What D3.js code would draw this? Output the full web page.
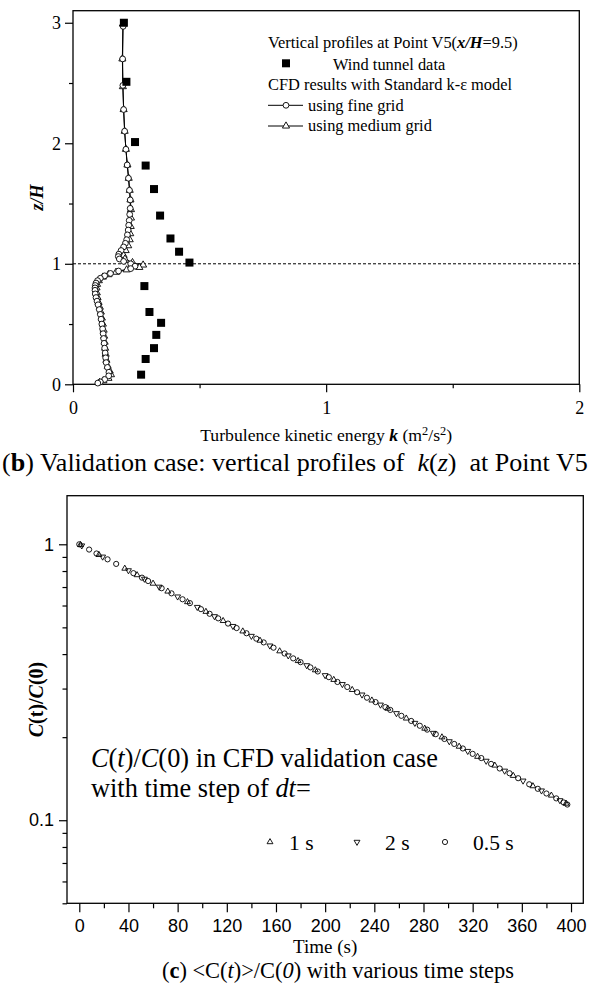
<!DOCTYPE html>
<html>
<head>
<meta charset="utf-8">
<script src="https://cdn.jsdelivr.net/npm/d3@7"></script>
<style>
  body { margin: 0; background: #fff; }
  svg { display: block; }
  text { white-space: pre; }
</style>
</head>
<body>
<svg id="fig" width="600" height="995"></svg>
<script>
// ---------- Panel (b): vertical profiles of k at Point V5 ----------
// wind tunnel measurements
const windK = [0.201, 0.211, 0.245, 0.287, 0.320, 0.344, 0.385, 0.419, 0.460, 0.282, 0.302, 0.348, 0.329, 0.320, 0.287, 0.269];
const windZ = [3.00, 2.51, 2.01, 1.815, 1.62, 1.40, 1.21, 1.10, 1.01, 0.815, 0.60, 0.51, 0.41, 0.30, 0.21, 0.08];

// CFD, standard k-epsilon, fine grid
const fineZ = [2.97, 2.70, 2.48, 2.28, 2.10, 1.95, 1.82, 1.71, 1.61, 1.53, 1.46, 1.41, 1.36, 1.32, 1.28, 1.24, 1.20, 1.17, 1.14, 1.11, 1.08, 1.06, 1.04, 1.02, 1.00, 0.98, 0.96, 0.94, 0.92, 0.90, 0.88, 0.86, 0.84, 0.82, 0.80, 0.78, 0.75, 0.72, 0.69, 0.66, 0.62, 0.58, 0.54, 0.50, 0.46, 0.42, 0.38, 0.34, 0.30, 0.26, 0.22, 0.18, 0.14, 0.10, 0.07, 0.04, 0.02, 0.01];
const fineK = [0.198, 0.196, 0.197, 0.200, 0.204, 0.209, 0.214, 0.219, 0.223, 0.226, 0.226, 0.224, 0.222, 0.220, 0.218, 0.215, 0.212, 0.207, 0.200, 0.190, 0.181, 0.179, 0.183, 0.200, 0.228, 0.245, 0.228, 0.180, 0.148, 0.125, 0.108, 0.097, 0.091, 0.088, 0.087, 0.087, 0.088, 0.091, 0.095, 0.099, 0.104, 0.108, 0.111, 0.114, 0.117, 0.119, 0.121, 0.123, 0.125, 0.127, 0.129, 0.131, 0.136, 0.142, 0.141, 0.125, 0.108, 0.098];

// CFD, standard k-epsilon, medium grid
const medZ = [2.99, 2.70, 2.47, 2.28, 2.10, 1.95, 1.82, 1.71, 1.61, 1.53, 1.45, 1.38, 1.31, 1.25, 1.20, 1.15, 1.11, 1.07, 1.04, 1.01, 0.99, 0.97, 0.95, 0.93, 0.91, 0.89, 0.86, 0.83, 0.80, 0.76, 0.72, 0.68, 0.64, 0.60, 0.55, 0.50, 0.45, 0.40, 0.35, 0.30, 0.25, 0.20, 0.15, 0.11, 0.08, 0.05, 0.03, 0.015];
const medK = [0.197, 0.195, 0.197, 0.200, 0.204, 0.209, 0.215, 0.220, 0.224, 0.227, 0.229, 0.229, 0.228, 0.226, 0.224, 0.218, 0.208, 0.200, 0.205, 0.235, 0.277, 0.262, 0.212, 0.170, 0.140, 0.118, 0.102, 0.095, 0.093, 0.094, 0.097, 0.101, 0.106, 0.110, 0.114, 0.118, 0.121, 0.123, 0.125, 0.127, 0.129, 0.132, 0.137, 0.145, 0.150, 0.140, 0.120, 0.105];

const kTicks = [0, 1, 2];
const kMinor = [0.5, 1.5];
const zTicks = [0, 1, 2, 3];
const zMinor = [0.5, 1.5, 2.5];
const roofZ = 1;

// ---------- Panel (c): C(t)/C(0) for three time steps ----------
const tHalf = [0, 8, 14, 23, 30, 44, 51, 56, 67, 75, 84, 90, 99, 106, 113, 121, 128, 136, 144, 150, 158, 167, 174, 180, 188, 194, 203, 210, 218, 226, 234, 241, 249, 253, 262, 270, 277, 283, 290, 297, 305, 312, 320, 327, 335, 342, 350, 357, 366, 373, 380, 388, 394, 397];
const cHalf = [1.000, 0.957, 0.926, 0.882, 0.849, 0.786, 0.757, 0.736, 0.693, 0.664, 0.632, 0.612, 0.582, 0.560, 0.539, 0.516, 0.497, 0.476, 0.455, 0.441, 0.422, 0.402, 0.386, 0.374, 0.358, 0.346, 0.330, 0.317, 0.304, 0.291, 0.278, 0.268, 0.257, 0.251, 0.239, 0.229, 0.220, 0.213, 0.205, 0.197, 0.189, 0.182, 0.174, 0.168, 0.160, 0.154, 0.148, 0.142, 0.135, 0.130, 0.125, 0.120, 0.116, 0.114];

const tOne = [1, 16, 37, 47, 60, 72, 88, 103, 117, 133, 147, 163, 178, 192, 207, 222, 238, 251, 266, 281, 295, 309, 324, 338, 353, 369, 384, 396];
const cOne = [0.995, 0.916, 0.817, 0.774, 0.721, 0.675, 0.618, 0.570, 0.528, 0.484, 0.448, 0.410, 0.378, 0.350, 0.323, 0.297, 0.272, 0.254, 0.234, 0.215, 0.200, 0.185, 0.170, 0.158, 0.145, 0.133, 0.123, 0.115];

const tTwo = [2, 19, 40, 53, 65, 80, 96, 110, 125, 140, 155, 170, 185, 200, 214, 230, 245, 258, 273, 288, 301, 316, 331, 346, 361, 376, 391];
const cTwo = [0.989, 0.901, 0.804, 0.749, 0.701, 0.646, 0.592, 0.548, 0.505, 0.465, 0.429, 0.395, 0.364, 0.335, 0.311, 0.285, 0.262, 0.244, 0.225, 0.207, 0.193, 0.178, 0.164, 0.151, 0.139, 0.128, 0.118];

const timeTicks = [0, 40, 80, 120, 160, 200, 240, 280, 320, 360, 400];
const timeMinor = [20, 60, 100, 140, 180, 220, 260, 300, 340, 380];
const ratioTicks = [0.1, 1];
const ratioMinor = [0.05, 0.06, 0.07, 0.08, 0.09, 0.2, 0.3, 0.4, 0.5, 0.6, 0.7, 0.8, 0.9];

const stepLabels = ["1 s", "2 s", "0.5 s"];

// ---------- drawing ----------
const SERIF = "'Liberation Serif','Times New Roman',serif";
const SANS = "'Liberation Sans',Arial,sans-serif";
const svg = d3.select("#fig");
svg.append("rect").attr("width", 600).attr("height", 995).attr("fill", "#fff");

const zip = (a, b, ka, kb) => a.map((v, i) => ({ [ka]: v, [kb]: b[i] }));

function styleAxis(g, font, size) {
  g.attr("font-family", font).attr("font-size", size);
  g.select(".domain").remove();
  g.selectAll(".tick line").attr("stroke", "#000").attr("stroke-width", 1.2);
  g.selectAll(".tick text").attr("font-family", font).attr("font-size", size).attr("fill", "#000");
}

function fitWidth(sel, target) {
  const fs = parseFloat(sel.attr("font-size"));
  const len = sel.node().getComputedTextLength();
  const size = fs * target / len;
  sel.attr("font-size", size.toFixed(2));
  return size;
}

// ===== panel (b) =====
const xK = d3.scaleLinear().domain([0, 2]).range([73, 579.3]);
const yZ = d3.scaleLinear().domain([0, 3.1]).range([384.3, 10.7]);
const gb = svg.append("g");

gb.append("g").attr("transform", `translate(0,${yZ(0)})`)
  .call(d3.axisBottom(xK).tickValues(kTicks).tickSize(8).tickPadding(9).tickFormat(d3.format("d")))
  .call(styleAxis, SERIF, 18);
gb.append("g").attr("transform", `translate(0,${yZ(0)})`)
  .call(d3.axisBottom(xK).tickValues(kMinor).tickSize(4).tickFormat(""))
  .call(styleAxis, SERIF, 18);
gb.append("g").attr("transform", `translate(${xK(0)},0)`)
  .call(d3.axisLeft(yZ).tickValues(zTicks).tickSize(8).tickPadding(4).tickFormat(d3.format("d")))
  .call(styleAxis, SERIF, 18);
gb.append("g").attr("transform", `translate(${xK(0)},0)`)
  .call(d3.axisLeft(yZ).tickValues(zMinor).tickSize(4).tickFormat(""))
  .call(styleAxis, SERIF, 18);

gb.append("rect")
  .attr("x", xK(0)).attr("y", yZ(3.1))
  .attr("width", xK(2) - xK(0)).attr("height", yZ(0) - yZ(3.1))
  .attr("fill", "none").attr("stroke", "#000").attr("stroke-width", 1.3);

// roof-height reference line
gb.append("line")
  .attr("x1", xK(0)).attr("x2", xK(2))
  .attr("y1", yZ(roofZ)).attr("y2", yZ(roofZ))
  .attr("stroke", "#000").attr("stroke-width", 1).attr("stroke-dasharray", "3,2");

const fine = zip(fineK, fineZ, "k", "z");
const med = zip(medK, medZ, "k", "z");
const wind = zip(windK, windZ, "k", "z");
const profLine = d3.line().x(d => xK(d.k)).y(d => yZ(d.z));

gb.append("path").attr("d", profLine(med)).attr("fill", "none").attr("stroke", "#000").attr("stroke-width", 1);
gb.append("path").attr("d", profLine(fine)).attr("fill", "none").attr("stroke", "#000").attr("stroke-width", 1);

const triUpTop = d3.symbol(d3.symbolTriangle, 22);
gb.selectAll(".med").data(med).join("path")
  .attr("transform", d => `translate(${xK(d.k)},${yZ(d.z)})`)
  .attr("d", triUpTop()).attr("fill", "#fff").attr("stroke", "#000").attr("stroke-width", 0.9);
gb.selectAll(".fine").data(fine).join("circle")
  .attr("cx", d => xK(d.k)).attr("cy", d => yZ(d.z)).attr("r", 2.9)
  .attr("fill", "#fff").attr("stroke", "#000").attr("stroke-width", 0.9);
gb.selectAll(".wind").data(wind).join("rect")
  .attr("x", d => xK(d.k) - 4).attr("y", d => yZ(d.z) - 4)
  .attr("width", 8).attr("height", 8).attr("fill", "#000");

// legend
const lg = gb.append("g").attr("font-family", SERIF).attr("font-size", 15).attr("fill", "#000");
const l1 = lg.append("text").attr("x", 268).attr("y", 47.5).attr("font-size", 15);
l1.append("tspan").text("Vertical profiles at Point V5(");
l1.append("tspan").attr("font-weight", "bold").attr("font-style", "italic").text("x/H");
l1.append("tspan").text("=9.5)");
const legSize = fitWidth(l1, 250);
lg.attr("font-size", legSize.toFixed(2));
lg.append("rect").attr("x", 282).attr("y", 59.3).attr("width", 8).attr("height", 8).attr("fill", "#000");
lg.append("text").attr("x", 333).attr("y", 69.5).text("Wind tunnel data");
lg.append("text").attr("x", 268).attr("y", 90).text("CFD results with Standard k-\u03B5 model");
lg.append("line").attr("x1", 268).attr("x2", 303).attr("y1", 105.3).attr("y2", 105.3).attr("stroke", "#000").attr("stroke-width", 1);
lg.append("circle").attr("cx", 286).attr("cy", 105.3).attr("r", 2.9).attr("fill", "#fff").attr("stroke", "#000").attr("stroke-width", 0.9);
lg.append("text").attr("x", 308).attr("y", 110.5).text("using fine grid");
lg.append("line").attr("x1", 268).attr("x2", 303).attr("y1", 126).attr("y2", 126).attr("stroke", "#000").attr("stroke-width", 1);
lg.append("path").attr("transform", "translate(286,126)").attr("d", triUpTop()).attr("fill", "#fff").attr("stroke", "#000").attr("stroke-width", 0.9);
lg.append("text").attr("x", 308).attr("y", 131).text("using medium grid");

// axis titles
const xt = gb.append("text").attr("x", xK(1)).attr("y", 441).attr("text-anchor", "middle")
  .attr("font-family", SERIF).attr("font-size", 15).attr("fill", "#000");
xt.append("tspan").text("Turbulence kinetic energy ");
xt.append("tspan").attr("font-weight", "bold").attr("font-style", "italic").text("k");
xt.append("tspan").text(" (m");
xt.append("tspan").attr("font-size", "0.7em").attr("dy", "-0.45em").text("2");
xt.append("tspan").attr("dy", "0.315em").text("/s");
xt.append("tspan").attr("font-size", "0.7em").attr("dy", "-0.45em").text("2");
xt.append("tspan").attr("dy", "0.315em").text(")");
fitWidth(xt, 252);

gb.append("text")
  .attr("transform", `translate(37,${(yZ(0) + yZ(3.1)) / 2}) rotate(-90)`)
  .attr("text-anchor", "middle").attr("dominant-baseline", "central")
  .attr("font-family", SERIF).attr("font-size", 18).attr("font-weight", "bold").attr("font-style", "italic")
  .text("z/H");

// caption (b)
const capB = svg.append("text").attr("x", 2).attr("y", 471)
  .attr("font-family", SERIF).attr("font-size", 21).attr("fill", "#000");
capB.append("tspan").text("(");
capB.append("tspan").attr("font-weight", "bold").text("b");
capB.append("tspan").text(") Validation case: vertical profiles of  ");
capB.append("tspan").attr("font-style", "italic").text("k");
capB.append("tspan").text("(");
capB.append("tspan").attr("font-style", "italic").text("z");
capB.append("tspan").text(")  at Point V5");
fitWidth(capB, 586);

// ===== panel (c) =====
const xT = d3.scaleLinear().domain([-10, 410]).range([67, 583.3]);
const yC = d3.scaleLog().domain([0.05, 1.5]).range([903.3, 495.7]);
const gc = svg.append("g");

gc.append("g").attr("transform", `translate(0,${yC(0.05)})`)
  .call(d3.axisBottom(xT).tickValues(timeTicks).tickSize(9).tickPadding(7).tickFormat(d3.format("d")))
  .call(styleAxis, SANS, 18);
gc.append("g").attr("transform", `translate(0,${yC(0.05)})`)
  .call(d3.axisBottom(xT).tickValues(timeMinor).tickSize(5).tickFormat(""))
  .call(styleAxis, SANS, 18);
gc.append("g").attr("transform", `translate(${xT(-10)},0)`)
  .call(d3.axisLeft(yC).tickValues(ratioTicks).tickSize(8).tickPadding(5).tickFormat(d3.format("~g")))
  .call(styleAxis, SANS, 18);
gc.append("g").attr("transform", `translate(${xT(-10)},0)`)
  .call(d3.axisLeft(yC).tickValues(ratioMinor).tickSize(4.5).tickFormat(""))
  .call(styleAxis, SANS, 18);

gc.append("rect")
  .attr("x", xT(-10)).attr("y", yC(1.5))
  .attr("width", xT(410) - xT(-10)).attr("height", yC(0.05) - yC(1.5))
  .attr("fill", "none").attr("stroke", "#000").attr("stroke-width", 1.3);

const half = zip(tHalf, cHalf, "t", "c");
const one = zip(tOne, cOne, "t", "c");
const two = zip(tTwo, cTwo, "t", "c");
const triUp = d3.symbol(d3.symbolTriangle, 15);

gc.selectAll(".one").data(one).join("path")
  .attr("transform", d => `translate(${xT(d.t)},${yC(d.c)})`)
  .attr("d", triUp()).attr("fill", "none").attr("stroke", "#000").attr("stroke-width", 0.9);
gc.selectAll(".two").data(two).join("path")
  .attr("transform", d => `translate(${xT(d.t)},${yC(d.c)}) rotate(180)`)
  .attr("d", triUp()).attr("fill", "none").attr("stroke", "#000").attr("stroke-width", 0.9);
gc.selectAll(".half").data(half).join("circle")
  .attr("cx", d => xT(d.t)).attr("cy", d => yC(d.c)).attr("r", 2.6)
  .attr("fill", "none").attr("stroke", "#000").attr("stroke-width", 0.9);

// annotation and legend
const an = gc.append("g").attr("font-family", SERIF).attr("font-size", 24).attr("fill", "#000");
const a1 = an.append("text").attr("x", 91).attr("y", 767).attr("font-size", 24);
a1.append("tspan").attr("font-style", "italic").text("C");
a1.append("tspan").text("(");
a1.append("tspan").attr("font-style", "italic").text("t");
a1.append("tspan").text(")/");
a1.append("tspan").attr("font-style", "italic").text("C");
a1.append("tspan").text("(0) in CFD validation case");
const annSize = fitWidth(a1, 347);
const a2 = an.append("text").attr("x", 91).attr("y", 797).attr("font-size", annSize.toFixed(2));
a2.append("tspan").text("with time step of ");
a2.append("tspan").attr("font-style", "italic").text("dt");
a2.append("tspan").text("=");

const legX = [270, 357, 445];
const legTextX = [289, 385, 473];
const lgc = gc.append("g").attr("font-family", SERIF).attr("font-size", 21.5).attr("fill", "#000");
lgc.append("path").attr("transform", `translate(${legX[0]},842)`).attr("d", triUp())
  .attr("fill", "none").attr("stroke", "#000").attr("stroke-width", 0.9);
lgc.append("path").attr("transform", `translate(${legX[1]},842) rotate(180)`).attr("d", triUp())
  .attr("fill", "none").attr("stroke", "#000").attr("stroke-width", 0.9);
lgc.append("circle").attr("cx", legX[2]).attr("cy", 842).attr("r", 2.6)
  .attr("fill", "none").attr("stroke", "#000").attr("stroke-width", 0.9);
stepLabels.forEach((s, i) => lgc.append("text").attr("x", legTextX[i]).attr("y", 850).text(s));

// axis titles
gc.append("text").attr("x", xT(200)).attr("y", 953).attr("text-anchor", "middle")
  .attr("font-family", SERIF).attr("font-size", 19).attr("fill", "#000").text("Time (s)");

const yt = gc.append("text")
  .attr("transform", `translate(36,${(yC(0.05) + yC(1.5)) / 2}) rotate(-90)`)
  .attr("text-anchor", "middle").attr("dominant-baseline", "central")
  .attr("font-family", SERIF).attr("font-size", 20).attr("font-weight", "bold").attr("fill", "#000");
yt.append("tspan").attr("font-style", "italic").text("C");
yt.append("tspan").text("(t)/");
yt.append("tspan").attr("font-style", "italic").text("C");
yt.append("tspan").text("(0)");

// caption (c)
const capC = svg.append("text").attr("x", 338).attr("y", 978).attr("text-anchor", "middle")
  .attr("font-family", SERIF).attr("font-size", 21).attr("fill", "#000");
capC.append("tspan").text("(");
capC.append("tspan").attr("font-weight", "bold").text("c");
capC.append("tspan").text(") <C(");
capC.append("tspan").attr("font-style", "italic").text("t");
capC.append("tspan").text(")>/C(");
capC.append("tspan").attr("font-style", "italic").text("0");
capC.append("tspan").text(") with various time steps");
fitWidth(capC, 352);
</script>
</body>
</html>
